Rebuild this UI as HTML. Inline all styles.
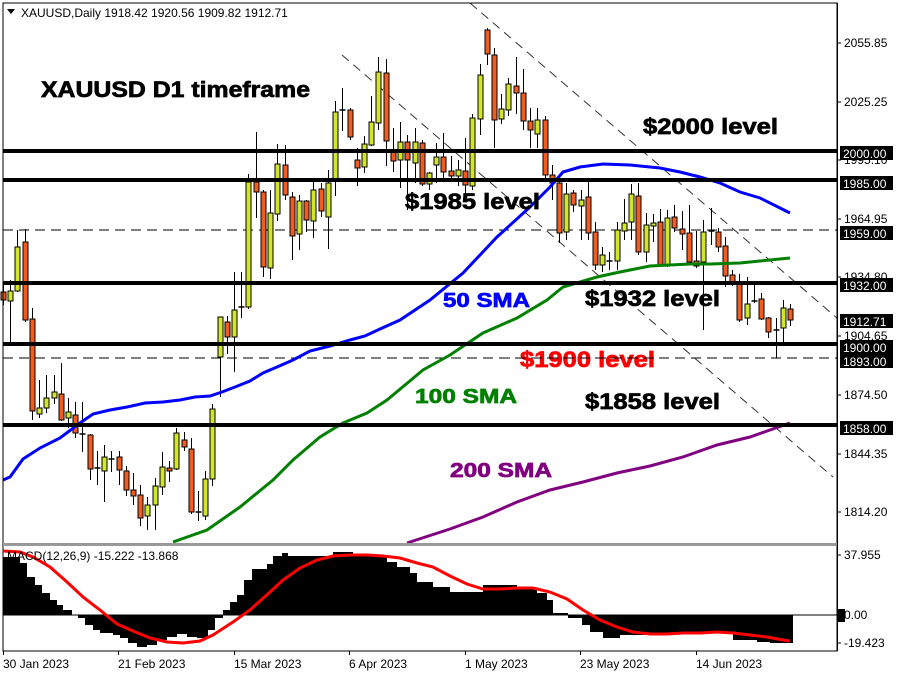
<!DOCTYPE html>
<html><head><meta charset="utf-8"><style>
html,body{margin:0;padding:0;background:#fff;}
svg{display:block;font-family:"Liberation Sans",sans-serif;}
</style></head><body>
<svg id="s" width="902" height="676" xmlns="http://www.w3.org/2000/svg">
<rect width="902" height="676" fill="#fff"/>
<line x1="3" y1="230" x2="837" y2="230" stroke="#000" stroke-width="1" stroke-dasharray="10,6"/>
<line x1="3" y1="358" x2="837" y2="358" stroke="#000" stroke-width="1" stroke-dasharray="10,6"/>
<line x1="342" y1="55" x2="833" y2="477" stroke="#333" stroke-width="1" stroke-dasharray="9,6"/>
<line x1="470" y1="3" x2="837" y2="318" stroke="#333" stroke-width="1" stroke-dasharray="9,6"/>
<g id="candles"></g>
<polyline fill="none" stroke="#0000ff" stroke-width="3" points="3,480 10,477 23,459 40,448 60,438 80,423 93,414 110,410 127,407 145,403 163,402 180,400 195,397 210,396 222,392 235,387 250,381 263,373 277,367 293,360 310,351 330,346 350,340 365,336 380,329 400,320 430,300 463,273 497,237 530,207 550,187 563,172 580,167 603,164 630,165 660,168 680,172 700,177 720,183 740,192 760,198 780,208 790,213"/>
<polyline fill="none" stroke="#008000" stroke-width="3" points="173,542 207,530 240,507 273,480 293,460 320,437 343,423 367,413 387,400 423,370 450,355 483,333 517,318 547,300 563,287 597,277 620,272 650,266 690,264 710,264 740,263 760,261 790,258"/>
<polyline fill="none" stroke="#800080" stroke-width="3" points="407,543 450,529 483,517 517,502 550,490 583,482 617,473 650,466 683,457 717,445 750,437 770,430 790,423"/>
<g stroke="#000" stroke-width="4">
<line x1="3" y1="151" x2="837" y2="151"/>
<line x1="3" y1="180" x2="837" y2="180"/>
<line x1="3" y1="283" x2="837" y2="283"/>
<line x1="3" y1="344" x2="837" y2="344"/>
<line x1="3" y1="425" x2="837" y2="425"/>
</g>
<g font-weight="bold" font-size="22" stroke-width="0.7">
<text x="41" y="97" stroke="#000" textLength="269" lengthAdjust="spacingAndGlyphs">XAUUSD D1 timeframe</text>
<text x="643" y="134" stroke="#000" textLength="135" lengthAdjust="spacingAndGlyphs">$2000 level</text>
<text x="405" y="209" stroke="#000" textLength="135" lengthAdjust="spacingAndGlyphs">$1985 level</text>
<text x="585" y="306" stroke="#000" textLength="135" lengthAdjust="spacingAndGlyphs">$1932 level</text>
<text x="520" y="367" fill="#ff0000" stroke="#ff0000" textLength="135" lengthAdjust="spacingAndGlyphs">$1900 level</text>
<text x="585" y="409" stroke="#000" textLength="135" lengthAdjust="spacingAndGlyphs">$1858 level</text>
<text x="443" y="307" fill="#0000ff" stroke="#0000ff" font-size="20" textLength="87" lengthAdjust="spacingAndGlyphs">50 SMA</text>
<text x="415" y="403" fill="#008000" stroke="#008000" font-size="20" textLength="102" lengthAdjust="spacingAndGlyphs">100 SMA</text>
<text x="450" y="477" fill="#800080" stroke="#800080" font-size="20" textLength="102" lengthAdjust="spacingAndGlyphs">200 SMA</text>
</g>
<line x1="500" y1="358" x2="660" y2="358" stroke="#000" stroke-width="1" stroke-dasharray="10,6"/>
<path d="M7,9 L15,9 L11,14 Z" fill="#000"/>
<text x="21" y="17" font-size="12">XAUUSD,Daily  1918.42 1920.56 1909.82 1912.71</text>
<rect x="3" y="3" width="834" height="648" fill="none" stroke="#000" stroke-width="1"/>
<rect x="3" y="543" width="834" height="3" fill="#999"/>
<g id="macd"></g>
<line x1="3" y1="615" x2="837" y2="615" stroke="#000" stroke-width="1"/>
<polyline fill="none" stroke="#ff0000" stroke-width="3" points="3,551 20,552 33,557 50,567 67,582 83,597 100,610 117,624 133,631 150,638 167,642 183,643 200,641 213,635 233,622 250,610 270,592 283,580 300,568 317,560 333,556 350,555 367,555 383,556 400,558 417,563 433,567 450,576 467,584 483,589 500,589 517,588 533,588 550,592 567,599 583,610 600,620 617,627 633,632 650,634 667,634 683,633 700,633 717,632 733,633 750,635 767,637 783,640 790,641"/>
<text x="7" y="560" font-size="12" fill="#000">MACD(12,26,9) -15.222 -13.868</text>
<g id="axis" font-size="12"></g>
<g font-size="12" id="dates"></g>
</svg>
<script>
var NS="http://www.w3.org/2000/svg";
function el(p,t,a,txt){var e=document.createElementNS(NS,t);for(var k in a)e.setAttribute(k,a[k]);if(txt!=null)e.textContent=txt;p.appendChild(e);return e;}
var C=[
[292,300,285,305],[301,291,280,342],[291,247,230,292],[242,320,229,322],[319,411,308,420],[414,408,380,418],[408,398,375,413],[398,392,375,404],[394,420,363,421],[418,412,398,428],
[415,433,402,438],[434,434,402,452],[435,469,434,480],[468,468,451,485],[471,457,445,502],[459,459,451,472],[457,470,451,485],[471,490,466,496],[490,496,473,505],[495,518,485,526],
[516,505,497,530],[505,486,478,530],[487,467,452,495],[468,471,461,482],[469,433,428,470],[440,447,432,451],[449,512,438,514],[512,512,491,521],[516,479,471,520],[479,409,404,486],
[357,317,317,397],[322,337,316,354],[337,310,272,372],[307,307,272,318],[307,182,174,309],[182,192,132,218],[192,267,190,277],[268,213,190,279],[214,164,144,221],[165,195,145,200],
[197,236,192,260],[234,201,195,250],[201,220,200,232],[221,190,182,238],[189,211,183,217],[217,183,170,249],[181,112,101,196],[110,110,88,131],[110,137,108,140],[160,168,148,186],
[167,144,136,173],[145,122,96,146],[123,72,57,130],[73,141,59,166],[152,161,128,172],[160,142,122,188],[142,160,135,210],[163,142,128,183],[143,184,140,186],[184,173,172,190],
[165,157,143,183],[157,172,133,180],[171,176,156,182],[176,170,160,186],[171,185,138,194],[186,118,114,190],[119,75,64,135],[30,54,28,65],[55,120,48,148],[119,109,94,124],
[110,84,78,116],[86,93,57,114],[93,121,69,130],[121,130,108,148],[134,120,108,148],[120,175,116,180],[175,183,165,200],[183,233,181,243],[232,194,183,240],[193,205,190,212],
[206,200,190,240],[197,233,182,240],[232,265,222,270],[265,255,247,272],[261,261,252,270],[261,230,222,270],[231,223,199,240],[222,194,184,240],[196,252,183,255],[252,225,213,262],
[226,223,214,242],[222,265,209,265],[265,218,210,267],[217,228,205,232],[229,234,211,250],[233,262,205,262],[261,266,231,268],[262,232,220,330],[231,231,208,245],[232,247,228,252],
[246,276,237,287],[275,282,270,286],[282,320,274,322],[318,304,277,325],[301,301,284,303],[299,319,293,320],[318,332,317,338],[330,330,318,358],[328,308,300,344],[309,320,304,326]];
var g=document.getElementById("candles");
C.forEach(function(c,i){var x=Math.round(3+i*7.22)+0.5;
el(g,"line",{x1:x,y1:c[2],x2:x,y2:c[3],stroke:"#000","stroke-width":1});
var o=c[0],cl=c[1];
if(o==cl){el(g,"line",{x1:x-3,y1:o,x2:x+3,y2:o,stroke:"#000","stroke-width":1.5});return;}
var up=cl<o;var t=Math.min(o,cl),h=Math.abs(o-cl);
el(g,"rect",{x:x-2.5,y:t,width:5,height:Math.max(h,2),fill:up?"#d2e628":"#f25c1e",stroke:"#000","stroke-width":1});
});
var H=[[3,20,557],[20,27,563],[27,35,577],[35,42,585],[42,50,593],[50,57,600],[57,63,605],[63,72,610],[72,78,615],[78,85,618],[85,93,625],[93,100,630],[100,113,633],[113,120,635],[120,128,638],[128,137,643],[137,147,647],[147,157,645],[157,167,640],[167,177,637],[177,187,634],[187,197,637],[197,208,638],[208,215,630],[215,223,618],[223,230,610],[230,237,602],[237,244,595],[244,252,580],[252,267,569],[267,273,564],[273,282,556],[282,288,553],[288,333,556],[333,353,552],[353,387,555],[387,397,562],[397,410,567],[410,417,573],[417,433,582],[433,450,587],[450,483,592],[483,517,585],[517,537,588],[537,547,593],[547,553,600],[553,568,613],[568,582,618],[582,590,625],[590,603,632],[603,620,638],[620,670,635],[670,733,633],[733,757,640],[757,770,642],[770,793,643]];
var m=document.getElementById("macd");
H.forEach(function(h){var y=h[2];var t=Math.min(y,615),b=Math.max(y,615);el(m,"rect",{x:h[0],y:t,width:h[1]-h[0],height:b-t,fill:"#000"});});
var a=document.getElementById("axis");
el(a,"line",{x1:837.5,y1:3,x2:837.5,y2:651,stroke:"#000"});
[["2055.85",43],["2025.25",102],["1995.10",160],["1964.95",219],["1934.80",277],["1904.65",336],["1874.50",395],["1844.35",454],["1814.20",512],["37.955",555],["-19.423",643]].forEach(function(v){
el(a,"line",{x1:837,y1:v[1],x2:841,y2:v[1],stroke:"#000"});el(a,"text",{x:844,y:v[1]+4},v[0]);});
el(a,"text",{x:844,y:619},"0.00");
[["2000.00",153],["1985.00",183],["1959.00",233],["1932.00",285],["1912.71",321],["1900.00",347],["1893.00",361],["1858.00",428]].forEach(function(v){
el(a,"rect",{x:840,y:v[1]-7,width:53,height:14,fill:"#000"});el(a,"text",{x:843,y:v[1]+5,fill:"#fff"},v[0]);});
el(a,"rect",{x:838,y:609,width:7,height:13,fill:"#000"});
var d=document.getElementById("dates");
[["30 Jan 2023",3],["21 Feb 2023",118],["15 Mar 2023",234],["6 Apr 2023",349],["1 May 2023",465],["23 May 2023",580],["14 Jun 2023",696]].forEach(function(v){
el(d,"line",{x1:v[1]+0.5,y1:651,x2:v[1]+0.5,y2:655,stroke:"#000"});el(d,"text",{x:v[1],y:668},v[0]);});
</script>
</body></html>
